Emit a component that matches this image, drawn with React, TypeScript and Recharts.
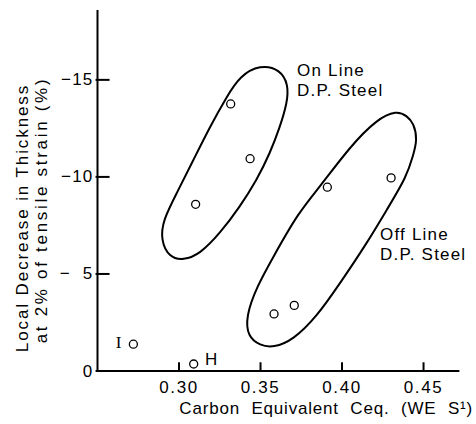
import React from "react";
import { ReferenceLine, Scatter, ScatterChart, XAxis, YAxis } from "recharts";

const xDomain = [0.25, 0.472];
const yDomain = [0, 18.6];

// Axis ticks
const xTicks = [0.3, 0.35, 0.4, 0.45];
const xTickLabels = ["0.30", "0.35", "0.40", "0.45"];
const yTicks = [0, 5, 10, 15];
const yTickLabels = ["0", "\u2212  5", "\u221210", "\u221215"];

// Measured points (Ceq, local decrease in thickness)
const onLinePoints = [
  { x: 0.3102, y: 8.59 },
  { x: 0.3317, y: 13.76 },
  { x: 0.3436, y: 10.94 },
];
const offLinePoints = [
  { x: 0.3583, y: 2.94 },
  { x: 0.3707, y: 3.38 },
  { x: 0.391, y: 9.47 },
  { x: 0.4301, y: 9.95 },
];
const otherPoints = [
  { x: 0.272, y: 1.38 },
  { x: 0.309, y: 0.36 },
];

// Hand-drawn loops around the two groups (outline)
const onLineLoop = [
  { x: 0.3497, y: 15.78 },
  { x: 0.362, y: 15.55 },
  { x: 0.3672, y: 14.74 },
  { x: 0.3663, y: 13.8 },
  { x: 0.362, y: 12.59 },
  { x: 0.3558, y: 11.22 },
  { x: 0.3477, y: 9.84 },
  { x: 0.3374, y: 8.47 },
  { x: 0.3252, y: 7.1 },
  { x: 0.3129, y: 6.03 },
  { x: 0.3026, y: 5.7 },
  { x: 0.294, y: 5.85 },
  { x: 0.2888, y: 6.75 },
  { x: 0.2902, y: 7.78 },
  { x: 0.2986, y: 9.16 },
  { x: 0.3088, y: 10.87 },
  { x: 0.319, y: 12.59 },
  { x: 0.3293, y: 14.14 },
  { x: 0.3374, y: 15.2 },
];
const offLineLoop = [
  { x: 0.4336, y: 13.42 },
  { x: 0.4397, y: 13.15 },
  { x: 0.444, y: 12.77 },
  { x: 0.4462, y: 11.91 },
  { x: 0.4437, y: 11.13 },
  { x: 0.4397, y: 10.02 },
  { x: 0.4274, y: 8.3 },
  { x: 0.4152, y: 6.58 },
  { x: 0.3988, y: 4.52 },
  { x: 0.3845, y: 2.8 },
  { x: 0.3701, y: 1.6 },
  { x: 0.3579, y: 1.2 },
  { x: 0.3497, y: 1.31 },
  { x: 0.3422, y: 1.77 },
  { x: 0.341, y: 2.8 },
  { x: 0.3477, y: 4.35 },
  { x: 0.3579, y: 5.89 },
  { x: 0.373, y: 8.14 },
  { x: 0.3865, y: 9.5 },
  { x: 0.4049, y: 11.56 },
  { x: 0.4213, y: 12.97 },
];

// Text notes placed in data coordinates
const notes = [
  { x: 0.3724, y: 15.52, lines: ["On Line", "D.P. Steel"], anchor: "start", serif: false },
  { x: 0.4233, y: 7.06, lines: ["Off Line", "D.P. Steel"], anchor: "start", serif: false },
  { x: 0.2629, y: 1.49, lines: ["I"], anchor: "middle", serif: true },
  { x: 0.316, y: 0.62, lines: ["H"], anchor: "start", serif: false },
];

const FONT = '"Liberation Sans", Arial, sans-serif';

// inward tick marks, lengths in data units (~12px and ~8px)
const yTickIn = 0.0074;
const yTickOut = 0.0012;
const xTickLen = 0.45;

const yTickMarks = yTicks.map((v, i) => ({ x: xDomain[0], y: v, label: yTickLabels[i] }));
const xTickMarks = xTicks.map((v, i) => ({ x: v, y: yDomain[0], label: xTickLabels[i] }));

const OpenCircle = (p: any) => (
  <circle cx={p.cx} cy={p.cy} r={4} fill="#fff" stroke="#000" strokeWidth={1.3} />
);

const NoMarker = () => <g />;

const YTickLabel = (p: any) => (
  <text
    x={p.cx - 4}
    y={p.cy}
    textAnchor="end"
    dominantBaseline="central"
    fontSize={17}
    letterSpacing={1.2}
    fontFamily={FONT}
    fill="#000"
    style={{ whiteSpace: "pre" }}
  >
    {p.payload.label}
  </text>
);

const XTickLabel = (p: any) => (
  <text
    x={p.cx}
    y={p.cy + 22}
    textAnchor="middle"
    fontSize={17}
    letterSpacing={1.6}
    fontFamily={FONT}
    fill="#000"
  >
    {p.payload.label}
  </text>
);

const NoteText = (p: any) => {
  const d = p.payload;
  return (
    <text
      x={p.cx}
      y={p.cy}
      textAnchor={d.anchor}
      dominantBaseline="central"
      fontSize={17}
      letterSpacing={d.serif ? 0 : 1.2}
      fontFamily={d.serif ? '"Liberation Serif", serif' : FONT}
      fill="#000"
    >
      {d.lines.map((line: string, i: number) => (
        <tspan key={i} x={p.cx} dy={i === 0 ? 0 : 20}>
          {line}
        </tspan>
      ))}
    </text>
  );
};

const renderYLabel = () => (
  <g fontFamily={FONT} fontSize={17} fill="#000">
    <text
      x={22}
      y={218}
      transform="rotate(-90 22 218)"
      textAnchor="middle"
      dominantBaseline="central"
      letterSpacing={1.9}
    >
      Local Decrease in Thickness
    </text>
    <text
      x={41}
      y={210}
      transform="rotate(-90 41 210)"
      textAnchor="middle"
      dominantBaseline="central"
      letterSpacing={2.7}
    >
      at 2% of tensile strain (%)
    </text>
  </g>
);

const renderXLabel = () => (
  <text
    x={473}
    y={414}
    textAnchor="end"
    fontFamily={FONT}
    fontSize={17}
    letterSpacing={0.8}
    wordSpacing={6}
    fill="#000"
  >
    Carbon Equivalent Ceq. (WE S¹)
  </text>
);

const App = () => {
  return (
    <div style={{ position: "absolute", left: 0, top: 0, width: 476, height: 424, background: "#fff" }}>
      <ScatterChart width={476} height={424} margin={{ top: 10, right: 16.6, left: 0, bottom: 0 }}>
        <XAxis
          type="number"
          dataKey="x"
          domain={xDomain}
          ticks={xTicks}
          height={53}
          tick={false}
          tickLine={false}
          axisLine={{ stroke: "#000", strokeWidth: 2 }}
          label={renderXLabel}
        />
        <YAxis
          type="number"
          dataKey="y"
          domain={yDomain}
          ticks={yTicks}
          width={97.5}
          tick={false}
          tickLine={false}
          axisLine={{ stroke: "#000", strokeWidth: 2 }}
          label={renderYLabel}
        />
        {yTicks.map((v) => (
          <ReferenceLine
            key={`yt${v}`}
            segment={[
              { x: xDomain[0] - yTickOut, y: v },
              { x: xDomain[0] + yTickIn, y: v },
            ]}
            stroke="#000"
            strokeWidth={2}
            ifOverflow="visible"
          />
        ))}
        {xTicks.map((v) => (
          <ReferenceLine
            key={`xt${v}`}
            segment={[
              { x: v, y: yDomain[0] },
              { x: v, y: yDomain[0] + xTickLen },
            ]}
            stroke="#000"
            strokeWidth={2}
            ifOverflow="visible"
          />
        ))}
        <Scatter
          data={onLineLoop}
          shape={NoMarker}
          line={{ stroke: "#000", strokeWidth: 2 }}
          lineType="joint"
          lineJointType="basisClosed"
          isAnimationActive={false}
        />
        <Scatter
          data={offLineLoop}
          shape={NoMarker}
          line={{ stroke: "#000", strokeWidth: 2 }}
          lineType="joint"
          lineJointType="basisClosed"
          isAnimationActive={false}
        />
        <Scatter data={yTickMarks} shape={YTickLabel} isAnimationActive={false} />
        <Scatter data={xTickMarks} shape={XTickLabel} isAnimationActive={false} />
        <Scatter data={onLinePoints} shape={OpenCircle} isAnimationActive={false} />
        <Scatter data={offLinePoints} shape={OpenCircle} isAnimationActive={false} />
        <Scatter data={otherPoints} shape={OpenCircle} isAnimationActive={false} />
        <Scatter data={notes} shape={NoteText} isAnimationActive={false} />
      </ScatterChart>
    </div>
  );
};

export default App;
